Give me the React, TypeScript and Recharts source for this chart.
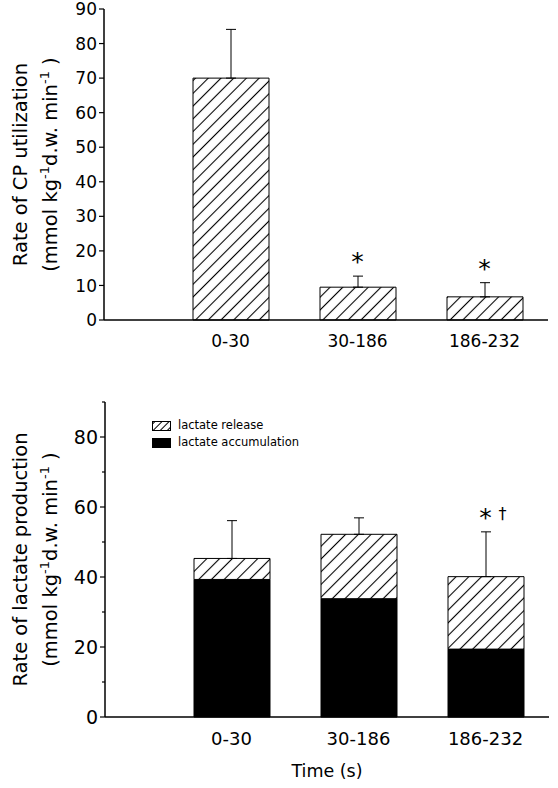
import React from 'react';
import { BarChart, Bar, XAxis, YAxis, ErrorBar, ReferenceDot, Legend } from 'recharts';

// time windows (s)
const PERIODS = ['0-30', '30-186', '186-232'];

// top panel: CP utilization, mean and SD
const CP_RATE = [70, 9.5, 6.7];
const CP_SD = [14.1, 3.2, 4.1];
const CP_MARKS = ['', '*', '*'];

// bottom panel: lactate production split in two parts
const LACTATE_ACCUM = [39.3, 33.8, 19.4];
const LACTATE_RELEASE = [6.0, 18.4, 20.7];
const LACTATE_SD = [10.8, 4.7, 12.8];
const LACTATE_MARKS = ['', '', '*†'];

const CP_TICKS = [0, 10, 20, 30, 40, 50, 60, 70, 80, 90];
const LACTATE_TICKS = [0, 10, 20, 30, 40, 50, 60, 70, 80, 90];
const LACTATE_LABELLED = [0, 20, 40, 60, 80];

const LEGEND_ORDER = ['lactate release', 'lactate accumulation'];

const FONT = '"DejaVu Sans", Verdana, sans-serif';

const cpData = PERIODS.map((p, i) => ({
    period: p,
    rate: CP_RATE[i],
    err: [0, CP_SD[i]],
    mark: CP_MARKS[i],
}));

const lactateData = PERIODS.map((p, i) => ({
    period: p,
    accum: LACTATE_ACCUM[i],
    release: LACTATE_RELEASE[i],
    err: [0, LACTATE_SD[i]],
    mark: LACTATE_MARKS[i],
}));

const Hatch = ({ id }: { id: string }) => (
    <defs>
        <pattern id={id} width={9} height={9} patternUnits="userSpaceOnUse" patternTransform="rotate(45)">
            <rect width={9} height={9} fill="#fff" />
            <line x1={4.5} y1={0} x2={4.5} y2={9} stroke="#000" strokeWidth={1.1} />
        </pattern>
    </defs>
);

function makeYTick(fontSize: number, labelled: number[] | null) {
    return (props: any) => {
        const { x, y, payload } = props;
        const major = labelled ? labelled.includes(payload.value) : true;
        return (
            <g>
                <line x1={x} x2={x - (major ? 5 : 3)} y1={y} y2={y} stroke="#000" strokeWidth={1.2} />
                {major && (
                    <text x={x - 7} y={y} dy={fontSize * 0.36} textAnchor="end" fontSize={fontSize} fill="#000" fontFamily={FONT}>
                        {payload.value}
                    </text>
                )}
            </g>
        );
    };
}

function makeXTick(fontSize: number, dy: number) {
    return (props: any) => {
        const { x, y, payload } = props;
        return (
            <text x={x} y={y + dy} textAnchor="middle" fontSize={fontSize} fill="#000" fontFamily={FONT}>
                {payload.value}
            </text>
        );
    };
}

function makeTitle(line1: string, fontSize: number, supSize: number) {
    return (props: any) => {
        const vb = props.viewBox;
        const cy = vb.y + vb.height / 2;
        const x1 = vb.x + 27;
        const x2 = vb.x + 57;
        return (
            <g fontFamily={FONT} fill="#000">
                <text x={x1} y={cy} textAnchor="middle" fontSize={fontSize} transform={`rotate(-90, ${x1}, ${cy})`}>
                    {line1}
                </text>
                <text x={x2} y={cy} textAnchor="middle" fontSize={fontSize} transform={`rotate(-90, ${x2}, ${cy})`}>
                    (mmol kg
                    <tspan dy={-8} fontSize={supSize}>-1</tspan>
                    <tspan dy={8}>d.w. min</tspan>
                    <tspan dy={-8} fontSize={supSize}>-1</tspan>
                    <tspan dy={8}> )</tspan>
                </text>
            </g>
        );
    };
}

const markLabel = (mark: string) => (props: any) => {
    const { x, y } = props.viewBox;
    const [star, dagger] = [mark.charAt(0), mark.slice(1)];
    return (
        <g fontFamily={FONT} fill="#000">
            <text x={x} y={y - 6} textAnchor="middle" fontSize={25}>{star}</text>
            {dagger && <text x={x + 17} y={y - 13} textAnchor="middle" fontSize={16}>{dagger}</text>}
        </g>
    );
};

const LegendBox = (props: any) => {
    const items = [...(props.payload || [])].sort(
        (a: any, b: any) => LEGEND_ORDER.indexOf(a.value) - LEGEND_ORDER.indexOf(b.value)
    );
    return (
        <div style={{ fontFamily: FONT, fontSize: 11.5, lineHeight: '17px', color: '#000' }}>
            {items.map((it: any) => (
                <div key={it.value} style={{ display: 'flex', alignItems: 'center' }}>
                    <svg width={19} height={10} style={{ marginRight: 7 }}>
                        <defs>
                            <pattern id="hatchLegend" width={5} height={5} patternUnits="userSpaceOnUse" patternTransform="rotate(45)">
                                <rect width={5} height={5} fill="#fff" />
                                <line x1={2.5} y1={0} x2={2.5} y2={5} stroke="#000" strokeWidth={1} />
                            </pattern>
                        </defs>
                        <rect x={0.5} y={0.5} width={18} height={9}
                            fill={it.value === 'lactate release' ? 'url(#hatchLegend)' : '#000'} stroke="#000" />
                    </svg>
                    <span>{it.value}</span>
                </div>
            ))}
        </div>
    );
};

export default function App() {
    return (
        <div style={{ position: 'absolute', left: 0, top: 0, width: 558, height: 788, background: '#fff' }}>
            <div style={{ position: 'absolute', left: 0, top: 0 }}>
                <BarChart width={558} height={360} data={cpData} margin={{ top: 9, right: 10, left: 0, bottom: 0 }}>
                    <Hatch id="hatchTop" />
                    <XAxis
                        dataKey="period"
                        height={40}
                        padding={{ left: 63, right: 0 }}
                        tickLine={false}
                        tickSize={0}
                        tickMargin={0}
                        axisLine={{ stroke: '#000', strokeWidth: 1.5 }}
                        tick={makeXTick(17, 27)}
                    />
                    <YAxis
                        width={104}
                        domain={[0, 90]}
                        ticks={CP_TICKS}
                        interval={0}
                        tickLine={false}
                        tickSize={0}
                        tickMargin={0}
                        axisLine={{ stroke: '#000', strokeWidth: 1.5 }}
                        tick={makeYTick(17, null)}
                        label={makeTitle('Rate of CP utilization', 19.5, 13)}
                    />
                    <Bar dataKey="rate" barSize={76} fill="url(#hatchTop)" stroke="#000" strokeWidth={1} isAnimationActive={false}>
                        <ErrorBar dataKey="err" width={5} stroke="#000" strokeWidth={1} />
                    </Bar>
                    {cpData.filter(d => d.mark).map(d => (
                        <ReferenceDot key={d.period} x={d.period} y={d.rate + d.err[1]} r={0}
                            fill="none" stroke="none" label={markLabel(d.mark)} />
                    ))}
                </BarChart>
            </div>
            <div style={{ position: 'absolute', left: 0, top: 390 }}>
                <BarChart width={558} height={398} data={lactateData} margin={{ top: 12, right: 9, left: 0, bottom: 0 }}>
                    <Hatch id="hatchBottom" />
                    <XAxis
                        dataKey="period"
                        height={71}
                        padding={{ left: 63, right: 0 }}
                        tickLine={false}
                        tickSize={0}
                        tickMargin={0}
                        axisLine={{ stroke: '#000', strokeWidth: 1.5 }}
                        tick={makeXTick(18, 28)}
                        label={{ value: 'Time (s)', position: 'insideBottom', offset: 11, fill: '#000', fontSize: 17.5, fontFamily: FONT }}
                    />
                    <YAxis
                        width={105}
                        domain={[0, 90]}
                        ticks={LACTATE_TICKS}
                        interval={0}
                        tickLine={false}
                        tickSize={0}
                        tickMargin={0}
                        axisLine={{ stroke: '#000', strokeWidth: 1.5 }}
                        tick={makeYTick(19, LACTATE_LABELLED)}
                        label={makeTitle('Rate of lactate production', 19.5, 13)}
                    />
                    <Legend
                        layout="vertical"
                        align="center"
                        verticalAlign="middle"
                        content={LegendBox}
                        wrapperStyle={{ top: 27, left: 152, width: 'auto' }}
                    />
                    <Bar dataKey="accum" name="lactate accumulation" stackId="lac" barSize={76} fill="#000" stroke="#000" isAnimationActive={false} />
                    <Bar dataKey="release" name="lactate release" stackId="lac" barSize={76} fill="url(#hatchBottom)" stroke="#000" strokeWidth={1} isAnimationActive={false}>
                        <ErrorBar dataKey="err" width={5} stroke="#000" strokeWidth={1} />
                    </Bar>
                    {lactateData.filter(d => d.mark).map(d => (
                        <ReferenceDot key={d.period} x={d.period} y={d.accum + d.release + d.err[1]} r={0}
                            fill="none" stroke="none" label={markLabel(d.mark)} />
                    ))}
                </BarChart>
            </div>
        </div>
    );
}
